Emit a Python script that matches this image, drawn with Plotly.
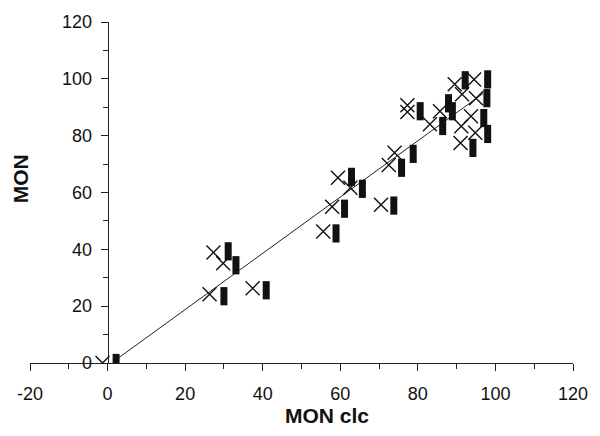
import plotly.graph_objects as go

# X-marker series (MON clc, MON)
mon_clc = [-1.3, 26.3, 27.3, 29.8, 37.4, 55.6, 57.9, 59.4, 62.6, 70.5, 72.5, 74.0,
           77.3, 77.3, 85.7, 83.1, 89.5, 94.5, 91.4, 95.0, 93.7, 91.2, 94.8, 91.0]
mon = [0.0, 24.2, 38.9, 35.1, 26.3, 46.3, 55.0, 65.2, 61.7, 55.7, 69.7, 74.0,
       88.3, 90.7, 88.6, 84.0, 98.1, 99.8, 94.6, 93.2, 86.8, 83.3, 81.0, 77.4]

# filled rectangle series
rect_x = [2.2, 30.0, 31.1, 33.1, 40.9, 58.9, 61.1, 62.9, 65.7, 73.8, 75.8, 78.8,
          80.6, 88.9, 87.9, 86.4, 92.2, 98.0, 97.8, 97.0, 98.0, 94.2]
rect_y = [0.0, 23.5, 39.3, 34.4, 25.6, 45.6, 54.3, 65.5, 61.3, 55.4, 68.7, 73.6,
          88.6, 88.6, 91.4, 83.4, 99.5, 99.8, 93.2, 86.2, 80.6, 75.7]

# fitted line
fit_slope = 0.99
fit_intercept = -1.0
fit_x = [2.8, 96.8]
fit_y = [fit_slope * v + fit_intercept for v in fit_x]

x_ticks = [-20, 0, 20, 40, 60, 80, 100, 120]
x_tick_labels = ["-20", "0", "20", "40", "60", "80", "100", "120"]
y_ticks = [0, 20, 40, 60, 80, 100, 120]
y_tick_labels = ["0", "20", "40", "60", "80", "100", "120"]

FONT = "Liberation Sans, Arial, Helvetica, sans-serif"

fig = go.Figure()
fig.add_trace(go.Scatter(x=fit_x, y=fit_y, mode="lines",
                         line=dict(color="#222222", width=1), hoverinfo="skip",
                         showlegend=False))
fig.add_trace(go.Scatter(x=rect_x, y=rect_y, mode="markers",
                         marker=dict(symbol="line-ns", size=13,
                                     line=dict(color="#111111", width=7)),
                         showlegend=False))
fig.add_trace(go.Scatter(x=mon_clc, y=mon, mode="markers",
                         marker=dict(symbol="x-thin", size=14,
                                     line=dict(color="#111111", width=1.4)),
                         showlegend=False))

axis_common = dict(showgrid=False, zeroline=False, showline=True,
                   linecolor="#222222", linewidth=1, ticks="outside",
                   ticklen=7, tickwidth=1, tickcolor="#222222",
                   tickfont=dict(family=FONT, size=18, color="#111111"))

pw = 600 - 30 - 16
ph = 436 - 20 - 73


def px_to_paper(px, py):
    return (px - 30) / pw, (436 - 73 - py) / ph


tx, ty = px_to_paper(333, 416)
mx, my = px_to_paper(20, 178)

fig.update_layout(
    width=600, height=436,
    margin=dict(l=30, r=16, t=20, b=73),
    plot_bgcolor="white", paper_bgcolor="white",
    xaxis=dict(range=[-20, 120], tickvals=x_ticks, ticktext=x_tick_labels,
               minor=dict(dtick=10, tick0=0, ticks="outside", ticklen=5,
                          tickcolor="#222222"),
               ticklabelstandoff=7, **axis_common),
    yaxis=dict(range=[0, 120], tickvals=y_ticks, ticktext=y_tick_labels,
               anchor="free", position=(0 - (-20)) / 140,
               minor=dict(dtick=10, tick0=0, ticks="outside", ticklen=5,
                          tickcolor="#222222"),
               ticklabelstandoff=5, **axis_common),
    annotations=[
        dict(text="<b>MON clc</b>", x=tx, y=ty, xref="paper", yref="paper",
             xanchor="center", yanchor="middle",
             showarrow=False, font=dict(family=FONT, size=21, color="#111111")),
        dict(text="<b>MON</b>", x=mx, y=my, xref="paper", yref="paper",
             xanchor="center", yanchor="middle",
             showarrow=False, textangle=-90,
             font=dict(family=FONT, size=21, color="#111111")),
    ],
)

fig.write_html("out.html")
